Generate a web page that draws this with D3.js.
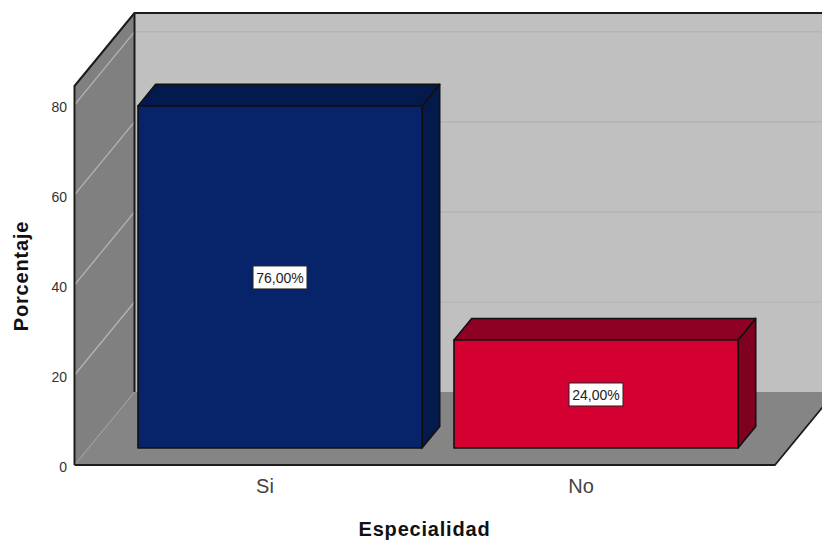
<!DOCTYPE html>
<html>
<head>
<meta charset="utf-8">
<script src="https://cdn.jsdelivr.net/npm/d3@7"></script>
<style>
  html, body { margin: 0; padding: 0; background: #fff; }
  svg { display: block; }
  text { font-family: "Liberation Sans", Arial, sans-serif; }
</style>
</head>
<body>
<svg id="chart" width="822" height="542"></svg>
<script>
// Share of respondents by specialty
const categories = ["Si", "No"];
const percentages = [76, 24];
const percentLabels = ["76,00%", "24,00%"];
const yTicks = [0, 20, 40, 60, 80];
const barFills = ["#07246b", "#d50032"];
const barTops = ["#041a4d", "#8e0024"];
const barSides = ["#041a4d", "#80001f"];

const svg = d3.select("#chart");

// Oblique projection: the room recedes by (depthX, depthY) at the back wall.
const depthX = 60, depthY = -73;
const barNear = 17 / 73, barThickness = 0.295;   // fractions of the room depth
const project = (x, y, t) => [x + depthX * t, y + depthY * t];

const yScale = d3.scaleLinear().domain([0, 84.2]).range([465, 86]);
const xScale = d3.scaleBand().domain(categories).range([122, 754]).paddingInner(32 / 316).paddingOuter(16 / 316);

const roomLeft = 74.5, roomRight = 775, roomBottom = yScale(0), roomTop = yScale(84.2);
const poly = pts => pts.map(p => p.join(",")).join(" ");
const edge = "#1c1c1c";

// Back wall
svg.append("polygon")
  .attr("points", poly([project(roomLeft, roomTop, 1), project(roomRight + 60, roomTop, 1), project(roomRight + 60, roomBottom, 1), project(roomLeft, roomBottom, 1)]))
  .attr("fill", "#c0c0c0");

// Left wall
svg.append("polygon")
  .attr("points", poly([[roomLeft, roomTop], project(roomLeft, roomTop, 1), project(roomLeft, roomBottom, 1), [roomLeft, roomBottom]]))
  .attr("fill", "#808080");

// Floor
svg.append("polygon")
  .attr("points", poly([[roomLeft, roomBottom], [roomRight, roomBottom], project(roomRight, roomBottom, 1), project(roomLeft, roomBottom, 1)]))
  .attr("fill", "#858585");

// Gridlines on the back wall and across the left wall
const gridValues = yTicks.filter(v => v > 0);
svg.append("g").selectAll("line").data(gridValues).join("line")
  .attr("x1", project(roomLeft, 0, 1)[0]).attr("x2", 822)
  .attr("y1", d => project(roomLeft, yScale(d), 1)[1]).attr("y2", d => project(roomLeft, yScale(d), 1)[1])
  .attr("stroke", "#b2b2b2").attr("stroke-width", 1.2);
svg.append("g").selectAll("line").data(gridValues).join("line")
  .attr("x1", roomLeft).attr("y1", d => yScale(d))
  .attr("x2", d => project(roomLeft, yScale(d), 1)[0]).attr("y2", d => project(roomLeft, yScale(d), 1)[1])
  .attr("stroke", "#b4b4b4").attr("stroke-width", 1.3);

// Dotted seam between floor and left wall
svg.append("line")
  .attr("x1", roomLeft).attr("y1", roomBottom)
  .attr("x2", project(roomLeft, 0, 1)[0]).attr("y2", project(roomLeft, roomBottom, 1)[1])
  .attr("stroke", "#a8a8a8").attr("stroke-width", 1).attr("stroke-dasharray", "2 1");

// Room outline
const outline = (pts, w) => svg.append("polyline").attr("points", poly(pts))
  .attr("fill", "none").attr("stroke", edge).attr("stroke-width", w).attr("stroke-linejoin", "round");
outline([[roomLeft, roomBottom], [roomLeft, roomTop], project(roomLeft, roomTop, 1), [822, project(roomLeft, roomTop, 1)[1]]], 2);
outline([project(roomLeft, roomTop, 1), project(roomLeft, roomBottom, 1)], 2);
outline([[roomLeft, roomBottom], [roomRight, roomBottom], project(roomRight, roomBottom, 1)], 1.8);

// Bars drawn as boxes: right side, top, then front face
categories.forEach((c, i) => {
  const x0 = xScale(c), x1 = x0 + xScale.bandwidth();
  const base = project(0, yScale(0), barNear)[1];
  const top = base - (yScale(0) - yScale(percentages[i]));
  const dx = depthX * barThickness, dy = depthY * barThickness;
  const g = svg.append("g").attr("stroke", "#111").attr("stroke-width", 1.6).attr("stroke-linejoin", "round");
  g.append("polygon").attr("points", poly([[x1, top], [x1 + dx, top + dy], [x1 + dx, base + dy], [x1, base]])).attr("fill", barSides[i]);
  g.append("polygon").attr("points", poly([[x0, top], [x0 + dx, top + dy], [x1 + dx, top + dy], [x1, top]])).attr("fill", barTops[i]);
  g.append("rect").attr("x", x0).attr("y", top).attr("width", x1 - x0).attr("height", base - top).attr("fill", barFills[i]);

  // Value label in a white box at the centre of the front face
  const cx = (x0 + x1) / 2, cy = (top + base) / 2 + 0.5;
  svg.append("rect").attr("x", cx - 27).attr("y", cy - 11.5).attr("width", 54).attr("height", 23)
    .attr("fill", "#fff").attr("stroke", "#222").attr("stroke-width", 1);
  svg.append("text").attr("x", cx).attr("y", cy + 5.5).attr("text-anchor", "middle")
    .attr("font-size", 14).attr("fill", "#222").text(percentLabels[i]);
});

// Value axis, labels only
const yAxis = d3.axisLeft(yScale).tickValues(yTicks).tickSize(0).tickPadding(7.5).tickFormat(d3.format("d"));
const yG = svg.append("g").attr("transform", `translate(${roomLeft},2.5)`).call(yAxis);
yG.select(".domain").remove();
yG.selectAll("text").attr("font-size", 14).attr("fill", "#333").style("font-family", '"Liberation Sans", Arial, sans-serif');

// Category labels sit under the bars, shifted toward the front of the room
const labelShift = -15;
svg.append("g").selectAll("text").data(categories).join("text")
  .attr("x", d => xScale(d) + xScale.bandwidth() / 2 + labelShift)
  .attr("y", 493).attr("text-anchor", "middle")
  .attr("font-size", 20).attr("fill", "#444").text(d => d);

// Axis titles
svg.append("text").attr("x", 424.5).attr("y", 536).attr("text-anchor", "middle")
  .attr("font-size", 20).attr("font-weight", "bold").attr("letter-spacing", 0.8).attr("fill", "#111").text("Especialidad");
svg.append("text").attr("transform", "translate(28,276) rotate(-90)").attr("text-anchor", "middle")
  .attr("font-size", 20).attr("font-weight", "bold").attr("letter-spacing", 0.8).attr("fill", "#111").text("Porcentaje");
</script>
</body>
</html>
